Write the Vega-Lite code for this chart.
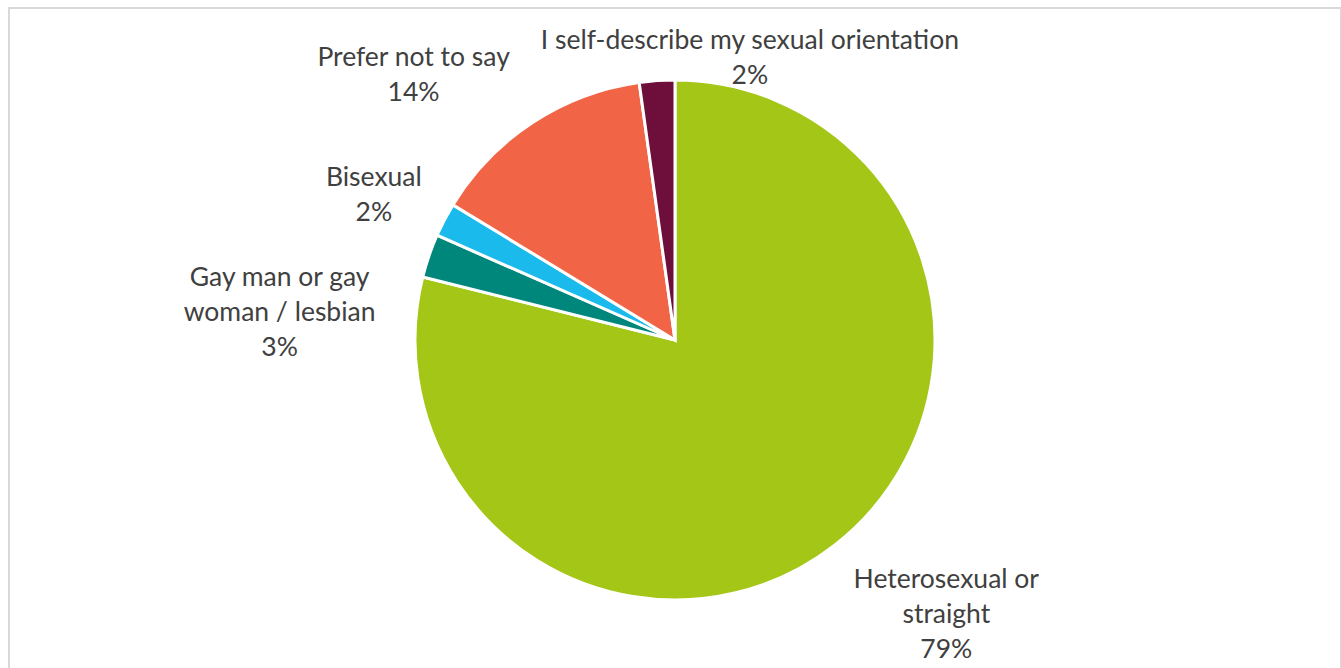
{
  "$schema": "https://vega.github.io/schema/vega-lite/v6.json",
  "width": 1332,
  "height": 664,
  "autosize": {"type": "none"},
  "padding": {"left": 9, "top": 8, "right": 0, "bottom": 0},
  "background": "white",
  "view": {"stroke": "#D9D9D9", "strokeWidth": 2, "fill": "white"},
  "data": {
    "values": [
      {"category": "Heterosexual or straight", "label": "Heterosexual or\nstraight", "value": 78.9},
      {"category": "Gay man or gay woman / lesbian", "label": "Gay man or gay\nwoman / lesbian", "value": 2.7},
      {"category": "Bisexual", "label": "Bisexual", "value": 2.1},
      {"category": "Prefer not to say", "label": "Prefer not to say", "value": 14.1},
      {"category": "I self-describe my sexual orientation", "label": "I self-describe my sexual orientation", "value": 2.2}
    ]
  },
  "transform": [
    {"window": [{"op": "sum", "field": "value", "as": "cum"}], "frame": [null, 0]},
    {"calculate": "datum.cum - datum.value", "as": "start"},
    {"calculate": "datum.cum - datum.value / 2", "as": "mid"},
    {"calculate": "datum.label + '\\n' + format(datum.value / 100, '.0%')", "as": "text"}
  ],
  "layer": [
    {
      "mark": {"type": "arc", "outerRadius": 260, "stroke": "white", "strokeWidth": 3},
      "encoding": {
        "theta": {"field": "start", "type": "quantitative", "scale": {"domain": [0, 100], "range": [0, 6.283185307]}},
        "theta2": {"field": "cum"},
        "color": {
          "field": "category", "type": "nominal", "legend": null,
          "scale": {
            "domain": ["Heterosexual or straight", "Gay man or gay woman / lesbian", "Bisexual", "Prefer not to say", "I self-describe my sexual orientation"],
            "range": ["#A3C617", "#00877C", "#1ABBEC", "#F26446", "#6E0E3A"]
          }
        }
      }
    },
    {
      "transform": [{"filter": "datum.category == 'Heterosexual or straight'"}],
      "mark": {"type": "text", "radius": 384, "dx": 35, "dy": -63, "font": "Lato", "fontSize": 26.5, "lineHeight": 35, "color": "#404040", "lineBreak": "\n", "align": "center", "baseline": "middle"},
      "encoding": {"theta": {"field": "mid", "type": "quantitative"}, "text": {"field": "text"}}
    },
    {
      "transform": [{"filter": "datum.category == 'Gay man or gay woman / lesbian'"}],
      "mark": {"type": "text", "radius": 382, "dx": -34, "dy": 62, "font": "Lato", "fontSize": 26.5, "lineHeight": 35, "color": "#404040", "lineBreak": "\n", "align": "center", "baseline": "middle"},
      "encoding": {"theta": {"field": "mid", "type": "quantitative"}, "text": {"field": "text"}}
    },
    {
      "transform": [{"filter": "datum.category == 'Bisexual'"}],
      "mark": {"type": "text", "radius": 334, "dx": -5, "dy": -8, "font": "Lato", "fontSize": 26.5, "lineHeight": 35, "color": "#404040", "lineBreak": "\n", "align": "center", "baseline": "middle"},
      "encoding": {"theta": {"field": "mid", "type": "quantitative"}, "text": {"field": "text"}}
    },
    {
      "transform": [{"filter": "datum.category == 'Prefer not to say'"}],
      "mark": {"type": "text", "radius": 365, "dx": -61, "dy": 23, "font": "Lato", "fontSize": 26.5, "lineHeight": 35, "color": "#404040", "lineBreak": "\n", "align": "center", "baseline": "middle"},
      "encoding": {"theta": {"field": "mid", "type": "quantitative"}, "text": {"field": "text"}}
    },
    {
      "transform": [{"filter": "datum.category == 'I self-describe my sexual orientation'"}],
      "mark": {"type": "text", "radius": 277, "dx": 94, "dy": -23, "font": "Lato", "fontSize": 26.5, "lineHeight": 35, "color": "#404040", "lineBreak": "\n", "align": "center", "baseline": "middle"},
      "encoding": {"theta": {"field": "mid", "type": "quantitative"}, "text": {"field": "text"}}
    }
  ]
}
